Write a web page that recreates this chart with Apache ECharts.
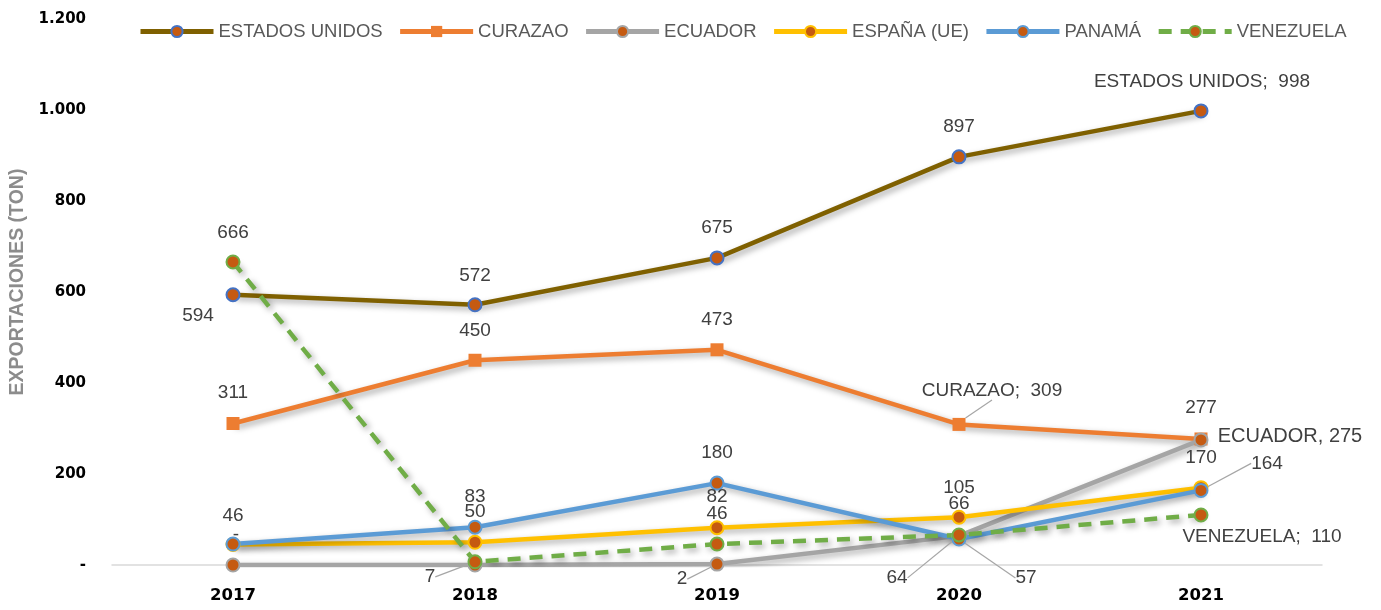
<!DOCTYPE html>
<html>
<head>
<meta charset="utf-8">
<script src="https://cdn.jsdelivr.net/npm/echarts@6/dist/echarts.min.js"></script>
<style>html,body{margin:0;padding:0;background:#fff;}#c{width:1381px;height:610px;}</style>
</head>
<body>
<div id="c"></div>
<script>
const years = ['2017', '2018', '2019', '2020', '2021'];
const estadosUnidos = [594, 572, 675, 897, 998];
const curazao = [311, 450, 473, 309, 277];
const ecuador = [0, 0, 2, 64, 275];
const espana = [45, 50, 82, 105, 170];
const panama = [46, 83, 180, 57, 164];
const venezuela = [666, 7, 46, 66, 110];
const yTicks = [0, 200, 400, 600, 800, 1000, 1200];

// label placement (style only): [dx, dy, showLeader]
const labelCfg = {
  'ESTADOS UNIDOS': [[-35, 21], [0, -29], [0, -30], [0, -30], [1, -29]],
  'CURAZAO': [[0, -31], [0, -29], [0, -30], [33, -34, true], [0, -31]],
  'ECUADOR': [[3, -30], null, [-35, 15, true], [-62, 42, true], [89, -3]],
  'ESPAÑA (UE)': [null, [0, -30], [0, -31], [0, -29], [0, -30]],
  'PANAMÁ': [[0, -28], [0, -30], [0, -30], [67, 39, true], [66, -27, true]],
  'VENEZUELA': [[0, -29], [-45, 15, true], [0, -30], [0, -31], [61, 22]]
};
const namedLabel = {
  'ESTADOS UNIDOS': {4: 'ESTADOS UNIDOS;  '},
  'CURAZAO': {3: 'CURAZAO;  '},
  'ECUADOR': {4: 'ECUADOR, '},
  'VENEZUELA': {4: 'VENEZUELA;  '}
};

const markerFill = '#C55A11';
const shadow = {shadowColor: 'rgba(0,0,0,0.35)', shadowBlur: 6, shadowOffsetX: 3, shadowOffsetY: 3};

function fmtNum(v) {
  if (v === 0) return '-';
  return String(v).replace(/\B(?=(\d{3})+(?!\d))/g, '.');
}

function mkSeries(name, values, color, opts) {
  opts = opts || {};
  const cfg = labelCfg[name];
  const data = values.map((v, i) => {
    const c = cfg[i];
    const item = {value: v};
    if (!c) {
      item.label = {show: false};
    } else if (c[2]) {
      item.labelLine = {show: true, lineStyle: {color: '#A6A6A6', width: 1.2}, length2: 0};
    }
    if (name === 'ECUADOR' && i === 4) item.label = {fontSize: 20};
    return item;
  });
  return {
    name: name,
    type: 'line',
    data: data,
    symbol: opts.symbol || 'circle',
    symbolSize: opts.symbolSize || 13,
    lineStyle: Object.assign({color: color, width: 4.5, type: opts.dash || 'solid'}, shadow),
    itemStyle: opts.square ? {color: color, borderColor: color, borderWidth: 0}
                           : {color: markerFill, borderColor: opts.border || color, borderWidth: 2},
    label: {
      show: true,
      position: 'inside',
      color: '#404040',
      fontSize: 19,
      fontFamily: 'Liberation Sans',
      formatter: p => ((namedLabel[name] && namedLabel[name][p.dataIndex]) || '') + fmtNum(p.value)
    },
    labelLayout: function (p) {
      const c = cfg[p.dataIndex];
      if (!c) return {};
      return {dx: c[0], dy: c[1]};
    },
    emphasis: {disabled: true},
    animation: false
  };
}

const chart = echarts.init(document.getElementById('c'));
chart.setOption({
  backgroundColor: '#fff',
  animation: false,
  legend: {
    top: 17,
    left: 133,
    itemWidth: 73,
    itemHeight: 14,
    itemGap: 15,
    lineStyle: {width: 5, shadowBlur: 0, shadowOffsetX: 0, shadowOffsetY: 0},
    textStyle: {color: '#595959', fontSize: 18.5, fontFamily: 'Liberation Sans'}
  },
  grid: {left: 112, right: 59, top: 19, bottom: 45, containLabel: false, outerBoundsMode: 'none'},
  xAxis: {
    type: 'category',
    data: years,
    boundaryGap: true,
    axisLine: {lineStyle: {color: '#D9D9D9', width: 1.5}},
    axisTick: {show: false},
    axisLabel: {color: '#000', fontWeight: 'bold', fontSize: 16.5, margin: 22, fontFamily: 'DejaVu Sans'}
  },
  yAxis: {
    type: 'value',
    min: 0,
    max: 1200,
    interval: 200,
    splitLine: {show: false},
    axisLine: {show: false},
    axisTick: {show: false},
    axisLabel: {color: '#000', fontWeight: 'bold', fontSize: 15, margin: 26, fontFamily: 'DejaVu Sans',
      formatter: v => fmtNum(v)},
    name: 'EXPORTACIONES (TON)',
    nameLocation: 'middle',
    nameRotate: 90,
    nameGap: 83,
    nameTextStyle: {color: '#8C8C8C', fontWeight: 'bold', fontSize: 19.5, fontFamily: 'Liberation Sans', padding: [0, 0, 0, 20]}
  },
  series: [
    mkSeries('ESTADOS UNIDOS', estadosUnidos, '#7F6000', {border: '#4472C4'}),
    mkSeries('CURAZAO', curazao, '#ED7D31', {symbol: 'rect', symbolSize: 13, square: true}),
    mkSeries('ECUADOR', ecuador, '#A5A5A5'),
    mkSeries('ESPAÑA (UE)', espana, '#FFC000'),
    mkSeries('PANAMÁ', panama, '#5B9BD5'),
    mkSeries('VENEZUELA', venezuela, '#70AD47', {dash: [13, 9]})
  ]
});
</script>
</body>
</html>
